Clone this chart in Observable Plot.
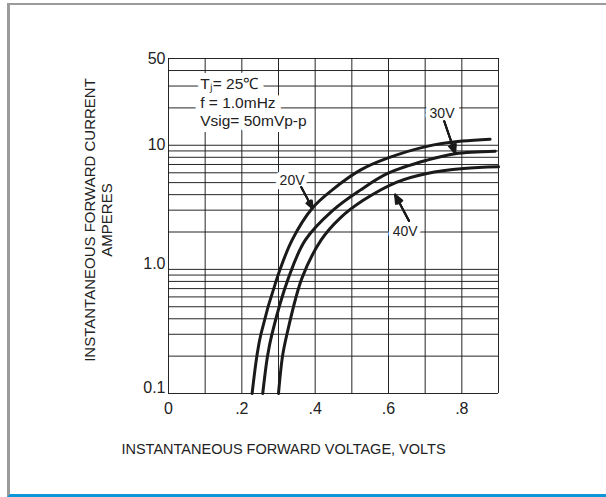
<!DOCTYPE html>
<html><head><meta charset="utf-8">
<script src="https://cdn.jsdelivr.net/npm/d3@7"></script>
<script src="https://cdn.jsdelivr.net/npm/@observablehq/plot@0.6"></script>
<style>
body{margin:0;background:#fff;}
#frame{position:absolute;left:7px;top:3px;width:599px;height:494px;box-sizing:border-box;border-left:3px solid #9b9b9b;border-top:2px solid #9b9b9b;border-bottom:3px solid #0d97d8;}
#chart{position:absolute;left:0;top:0;}
</style></head><body>
<div id="frame"></div><div id="chart"></div>
<script>
// Curves: instantaneous forward voltage (V) vs current (A)
const seriesNames = ["20V", "30V", "40V"];
const volts20 = [0.228, 0.241, 0.252, 0.296, 0.337, 0.391, 0.446, 0.523, 0.599, 0.705, 0.801, 0.877];
const amps20  = [0.1,   0.2,   0.3,   0.85,  1.72,  3.08,  4.35,  6.3,   7.9,   9.8,   10.8,  11.2];
const volts30 = [0.257, 0.270, 0.282, 0.327, 0.373, 0.449, 0.523, 0.599, 0.705, 0.782, 0.891];
const amps30  = [0.1,   0.2,   0.3,   0.85,  1.72,  3.0,   4.35,  5.96,  7.59,  8.55,  8.96];
const volts40 = [0.300, 0.311, 0.323, 0.364, 0.416, 0.468, 0.531, 0.623, 0.705, 0.805, 0.900];
const amps40  = [0.1,   0.2,   0.3,   0.85,  1.72,  2.59,  3.6,   5.05,  5.93,  6.5,   6.7];

// Ticks and grid
const xGrid = [0, 0.1, 0.2, 0.3, 0.4, 0.5, 0.6, 0.7, 0.8, 0.9];
const xTickValues = [0, 0.2, 0.4, 0.6, 0.8];
const xTickLabels = ["0", ".2", ".4", ".6", ".8"];
const yGrid = [0.1, 0.2, 0.3, 0.4, 0.5, 0.6, 0.7, 0.8, 0.9, 1, 2, 3, 4, 5, 6, 7, 8, 9, 10, 20, 30, 40, 50];
const yTickUpper = [10, 50];
const yTickLower = [0.1, 1];
const yTickLabels = new Map([[0.1, "0.1"], [1, "1.0"], [10, "10"], [50, "50"]]);

// Annotations (data coordinates)
const condText = "Tⱼ= 25℃\nf = 1.0mHz\nVsig= 50mVp-p";
const condPos = {V: 0.0865, I: 22.4};
const labelNames = ["20V", "30V", "40V"];
const labelV = [0.337, 0.746, 0.6455];
const labelI = [5.24, 18.1, 2.03];
const arrowV1 = [0.362, 0.752, 0.656];
const arrowI1 = [4.6, 15.6, 2.45];
const arrowV2 = [0.393, 0.782, 0.618];
const arrowI2 = [3.1, 8.6, 4.0];

const xTitle = "INSTANTANEOUS FORWARD VOLTAGE, VOLTS";
const yTitle = "INSTANTANEOUS FORWARD CURRENT\nAMPERES";

const rows = [];
[[volts20, amps20], [volts30, amps30], [volts40, amps40]].forEach(([vs, is], k) => {
  vs.forEach((v, j) => rows.push({series: seriesNames[k], V: v, I: is[j]}));
});
const labels = labelNames.map((t, i) => ({t, V: labelV[i], I: labelI[i]}));
const arrows = labelNames.map((t, i) => ({x1: arrowV1[i], y1: arrowI1[i], x2: arrowV2[i], y2: arrowI2[i]}));
const xLabelMap = new Map(xTickValues.map((d, i) => [d, xTickLabels[i]]));

const ink = "#1a1a1a";
const arrowOpts = {x1: "x1", y1: "y1", x2: "x2", y2: "y2", stroke: ink, strokeWidth: 2, headLength: 7};
const plot = Plot.plot({
  width: 606, height: 497,
  marginLeft: 168, marginRight: 108, marginTop: 58, marginBottom: 104,
  style: {fontFamily: "'Liberation Sans', Arial, sans-serif", background: "transparent", color: "#222"},
  x: {domain: [0, 0.9], axis: null},
  y: {type: "log", domain: [0.1, 50], axis: null},
  marks: [
    Plot.gridX(xGrid, {stroke: ink, strokeOpacity: 0.95, strokeWidth: 1}),
    Plot.gridY(yGrid, {stroke: ink, strokeOpacity: 0.95, strokeWidth: 1}),
    Plot.text([condText], {x: () => condPos.V, y: () => condPos.I, textAnchor: "start", lineAnchor: "middle",
      lineHeight: 1.2, fontSize: 15.5, fill: "#222", stroke: "white", strokeWidth: 12, strokeLinejoin: "round"}),
    Plot.text(labels, {x: "V", y: "I", text: "t", fontSize: 14, fill: "#222", stroke: "white", strokeWidth: 9, strokeLinejoin: "round"}),
    Plot.line(rows, {x: "V", y: "I", z: "series", curve: "catmull-rom", stroke: ink, strokeWidth: 3}),
    Plot.arrow(arrows, {...arrowOpts, headAngle: 45}),
    Plot.arrow(arrows, {...arrowOpts, headAngle: 28}),
    Plot.arrow(arrows, {...arrowOpts, headAngle: 12}),
    Plot.axisX(xTickValues, {tickSize: 0, tickPadding: 9, fontSize: 16, tickFormat: d => xLabelMap.get(d), label: null}),
    Plot.text(yTickUpper, {y: d => d, frameAnchor: "left", textAnchor: "end", dx: -3, fontSize: 16, fill: "#222", text: d => yTickLabels.get(d)}),
    Plot.text(yTickLower, {y: d => d, frameAnchor: "left", textAnchor: "end", dx: -3, dy: -6, fontSize: 16, fill: "#222", text: d => yTickLabels.get(d)}),
    Plot.text([xTitle], {frameAnchor: "bottom", dy: 56, dx: -50, lineAnchor: "middle", fontSize: 14.5, fill: "#222"}),
    Plot.text([yTitle], {frameAnchor: "left", dx: -70, dy: -6, rotate: -90, textAnchor: "middle", lineAnchor: "middle", lineHeight: 1.12, fontSize: 15, fill: "#222"})
  ]
});
document.getElementById("chart").appendChild(plot);
</script>
</body></html>
